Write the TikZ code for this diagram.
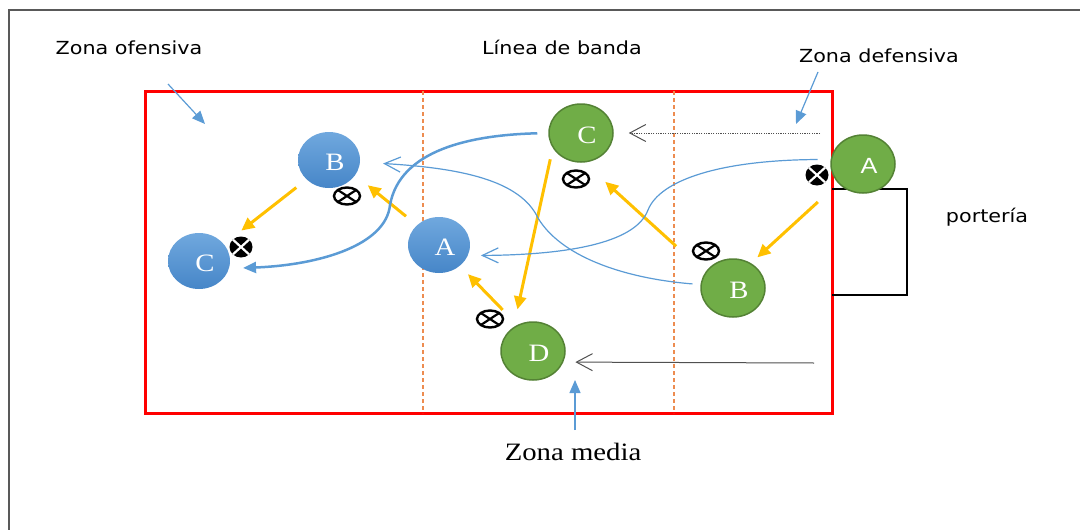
\documentclass[tikz,border=0pt]{standalone}
\usepackage{fontspec}
\setmainfont{Liberation Serif}[FakeStretch=1.15]
\newfontfamily\labfont{DejaVu Sans}[FakeStretch=1.15]
\newfontfamily\letsans{Liberation Sans}[FakeStretch=1.15]
\usetikzlibrary{arrows.meta,shapes.geometric}
\definecolor{bluetop}{RGB}{112,168,222}
\definecolor{bluebot}{RGB}{70,134,200}
\definecolor{lineblue}{RGB}{91,155,213}
\definecolor{ggreen}{RGB}{112,173,71}
\definecolor{ggreenD}{RGB}{84,130,53}
\definecolor{gold}{RGB}{255,192,0}
\definecolor{dashor}{RGB}{237,140,80}
\definecolor{framegray}{RGB}{89,89,89}
\definecolor{arrgray}{RGB}{80,80,80}
\begin{document}
\begin{tikzpicture}[x=1pt,y=-1pt,
  bluep/.style={ellipse, minimum width=62pt, minimum height=56pt, inner sep=0pt, top color=bluetop, bottom color=bluebot, draw=none},
  greenp/.style={ellipse, minimum width=64pt, minimum height=58pt, inner sep=0pt, fill=ggreen, draw=ggreenD, line width=1.5pt},
  plet/.style={label={[text=white, font=\fontsize{25}{25}\selectfont, xshift=6pt, yshift=-2pt]center:#1}},
  pletS/.style={label={[text=white, font=\letsans\fontsize{22}{22}\selectfont, xshift=6pt, yshift=-2pt]center:#1}},
  xo/.style={ellipse, draw=black, line width=2.4pt, minimum width=26pt, minimum height=17pt, inner sep=0pt,
    path picture={\draw[black, line width=2.2pt] (path picture bounding box.north west) -- (path picture bounding box.south east)
      (path picture bounding box.south west) -- (path picture bounding box.north east);}},
  xf/.style={ellipse, fill=black, minimum width=23pt, minimum height=21pt, inner sep=0pt,
    path picture={\draw[white, line width=2.2pt] (path picture bounding box.north west) -- (path picture bounding box.south east)
      (path picture bounding box.south west) -- (path picture bounding box.north east);}},
  ya/.style={draw=gold, line width=3pt, -{Triangle[length=13pt,width=12pt]}},
  bthick/.style={draw=lineblue, line width=2.5pt, -{Triangle[length=13pt,width=11pt]}},
  bthin/.style={draw=lineblue, line width=1.2pt, -{Straight Barb[length=16pt,width=15pt]}},
  garr/.style={draw=arrgray, line width=1pt, -{Straight Barb[length=16pt,width=17pt]}},
  ptr/.style={draw=lineblue, line width=1.2pt, -{Triangle[length=13pt,width=11pt]}},
  lab/.style={font=\labfont\fontsize{18}{20}\selectfont, anchor=base, inner sep=0pt}
]
\useasboundingbox (0,0) rectangle (1080,530);
% frame
\draw[framegray, line width=1.5pt] (9,530) -- (9,10) -- (1080,10);
% field
\draw[red, line width=3pt] (145,91) rectangle (832,413);
\draw[dashor, line width=1.2pt, dash pattern=on 4pt off 3pt] (423,91) -- (423,413) (674,91) -- (674,413);
% goal
\draw[black, line width=2pt] (832,189) -- (907,189) -- (907,295) -- (832,295);

% labels
\node[lab] (lofe) at (129,54.5) {Zona ofensiva};
\node[lab] (lban) at (562,54.5) {Línea de banda};
\node[lab] (ldef) at (879,62) {Zona defensiva};
\node[lab] (lpor) at (987,222) {portería};
\node[font=\fontsize{25}{25}\selectfont, anchor=base, inner sep=0pt] (lmed) at (573,460) {Zona media};

% players
\node[bluep, plet=B] (bB) at (329,160) {};
\node[bluep, plet=C] (bC) at (199,261) {};
\node[bluep, plet=A] (bA) at (439,245) {};
\node[greenp, plet=C] (gC) at (581,133) {};
\node[greenp, pletS=A] (gA) at (863,164) {};
\node[greenp, plet=B] (gB) at (733,288) {};
\node[greenp, plet=D] (gD) at (533,351) {};

% balls
\node[xo] (x1) at (347,196) {};
\node[xf] (x2) at (241,247) {};
\node[xo] (x3) at (576,179) {};
\node[xf] (x4) at (817,175) {};
\node[xo] (x5) at (706,251) {};
\node[xo] (x6) at (490,319) {};

% yellow passes
\draw[ya, shorten <=13pt, shorten >=22pt] (bB.221) -- (bC.34);
\draw[ya, shorten <=14pt, shorten >=16pt] (bA.138) -- (bB.-30);
\draw[ya, shorten <=11.5pt, shorten >=18pt] (gC.208) -- (gD.129);
\draw[ya, shorten <=39pt, shorten >=28.5pt] (gB.151) -- (gC.276);
\draw[ya, shorten <=27.5pt, shorten >=8.6pt] (gA.218) -- (gB.54);
\draw[ya, shorten <=21pt, shorten >=11.5pt] (gD.121) -- (bA.315);

% blue runs
\draw[bthick, shorten <=11pt, shorten >=14pt] (gC.west) .. controls (470,135) and (400,150) .. (390,205)
  .. controls (386,245) and (320,265) .. (bC.-14);
\draw[bthin, shorten <=8pt, shorten >=23pt] (gB.174) .. controls (620,278) and (560,255) .. (538,218)
  .. controls (520,180) and (460,168) .. (bB.-4);
\draw[bthin, shorten <=13pt, shorten >=13pt] (gA.172) .. controls (720,160) and (660,180) .. (648,210)
  .. controls (635,245) and (560,255) .. (bA.-20);

% gray arrows
\coordinate (dotS) at (820,133);
\draw[garr, dash pattern=on 1.2pt off 1.2pt, shorten >=15pt] (dotS) -- (gC.east);
\coordinate (solS) at (814,363);
\draw[garr, shorten >=12pt] (solS) -- (gD.-20);

% pointers
\coordinate (pofA) at (168,84);
\coordinate (pofB) at (205,124);
\draw[ptr] (pofA) -- (pofB);
\coordinate (pdfA) at (818,72);
\coordinate (pdfB) at (796,124);
\draw[ptr] (pdfA) -- (pdfB);
\coordinate (pmdA) at (575,430);
\coordinate (pmdB) at (575,380);
\draw[ptr] (pmdA) -- (pmdB);
\end{tikzpicture}
\end{document}
